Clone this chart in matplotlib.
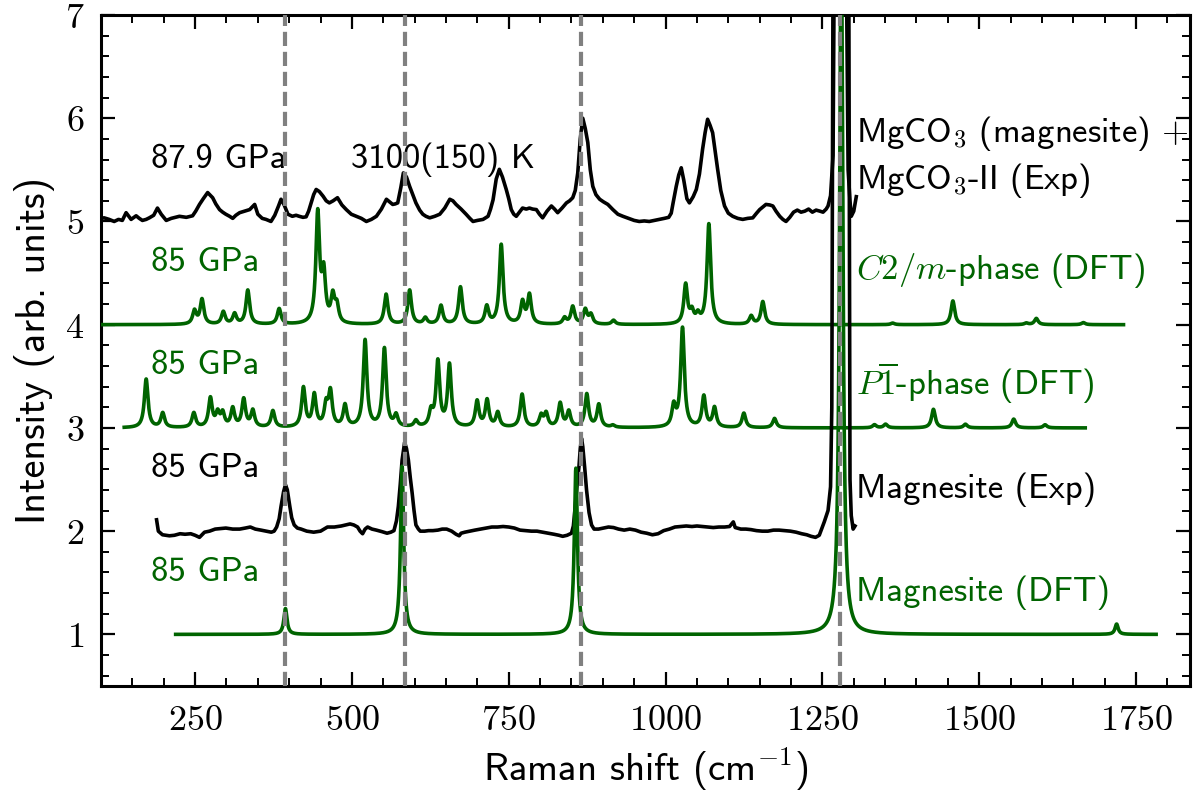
import numpy as np
import matplotlib
matplotlib.use("Agg")
import matplotlib.pyplot as plt
from matplotlib.ticker import MultipleLocator, FuncFormatter

# ---------------- data ----------------
# Experimental: MgCO3 (magnesite) + MgCO3-II at 87.9 GPa, 3100(150) K  (x cm^-1, y offset intensity)
exp_top = [
    (100, 5.03), (105, 5.035), (113, 5.02), (121, 5.00), (128, 5.02), (134, 5.01), (140, 5.085),
    (148, 5.02), (156, 5.055), (161, 5.03), (166, 5.01), (172, 5.02), (177, 5.035), (184, 5.06),
    (190, 5.13), (196, 5.07), (204, 5.01), (212, 5.03), (225, 5.05), (236, 5.04), (246, 5.055),
    (251, 5.10), (257, 5.165), (263, 5.22), (270, 5.28), (278, 5.23), (283, 5.17), (289, 5.115),
    (294, 5.09), (299, 5.07), (305, 5.05), (310, 5.03), (315, 5.06), (321, 5.085), (329, 5.10),
    (337, 5.115), (345, 5.165), (350, 5.07), (357, 5.03), (363, 5.02), (371, 5.00), (377, 5.06),
    (383, 5.15), (387, 5.215), (392, 5.16), (398, 5.07), (405, 5.05), (411, 5.06), (416, 5.05),
    (422, 5.04), (427, 5.045), (431, 5.10), (435, 5.18), (439, 5.26), (443, 5.31), (448, 5.29),
    (454, 5.245), (459, 5.20), (464, 5.18), (470, 5.20), (477, 5.23), (484, 5.16), (491, 5.115),
    (499, 5.07), (507, 5.05), (515, 5.03), (523, 5.00), (531, 5.02), (539, 5.05), (547, 5.12),
    (555, 5.215), (560, 5.19), (565, 5.165), (569, 5.17), (573, 5.18), (578, 5.33), (582, 5.47),
    (587, 5.43), (592, 5.34), (597, 5.26), (602, 5.18), (608, 5.11), (613, 5.07), (618, 5.05),
    (624, 5.035), (632, 5.05), (640, 5.07), (648, 5.13), (656, 5.215), (661, 5.20), (666, 5.165),
    (674, 5.12), (682, 5.07), (688, 5.03), (693, 5.00), (700, 5.01), (709, 5.02), (717, 5.05),
    (721, 5.12), (725, 5.21), (730, 5.41), (735, 5.505), (740, 5.43), (746, 5.31), (750, 5.22),
    (754, 5.115), (758, 5.07), (762, 5.05), (767, 5.09), (772, 5.13), (778, 5.12), (783, 5.13),
    (788, 5.12), (794, 5.115), (799, 5.07), (804, 5.035), (811, 5.10), (818, 5.15), (823, 5.12),
    (828, 5.085), (835, 5.13), (842, 5.18), (847, 5.20), (852, 5.23), (856, 5.30), (860, 5.47),
    (864, 5.80), (868, 6.00), (872, 5.90), (876, 5.765), (880, 5.50), (884, 5.34), (889, 5.26),
    (895, 5.215), (901, 5.19), (908, 5.165), (916, 5.115), (924, 5.07), (932, 5.05), (941, 5.03),
    (950, 5.01), (958, 5.00), (966, 5.005), (974, 5.00), (982, 5.01), (990, 5.02), (998, 5.03),
    (1005, 5.04), (1009, 5.08), (1012, 5.18), (1017, 5.34), (1021, 5.45), (1025, 5.52),
    (1029, 5.40), (1034, 5.22), (1038, 5.18), (1044, 5.24), (1049, 5.31), (1054, 5.46),
    (1059, 5.70), (1063, 5.86), (1067, 5.99), (1071, 5.93), (1075, 5.86), (1079, 5.68),
    (1083, 5.505), (1088, 5.30), (1094, 5.15), (1100, 5.08), (1107, 5.05), (1115, 5.03),
    (1123, 5.02), (1131, 5.03), (1139, 5.035), (1145, 5.08), (1150, 5.115), (1155, 5.14),
    (1160, 5.165), (1166, 5.16), (1171, 5.15), (1176, 5.10), (1182, 5.05), (1187, 5.02),
    (1192, 5.00), (1198, 5.04), (1204, 5.09), (1210, 5.11), (1216, 5.09), (1222, 5.10),
    (1228, 5.12), (1234, 5.09), (1240, 5.11), (1246, 5.10), (1251, 5.09), (1256, 5.12),
    (1259, 5.15), (1263, 5.25), (1267, 5.64), (1269, 7.6), (1288, 7.6), (1291, 5.50),
    (1294, 5.20), (1296, 5.05), (1300, 5.10), (1304, 5.24),
]

# Experimental magnesite at 85 GPa (offset 2)
exp_mag = [
    (188.6, 2.11), (191.4, 2.00), (198, 1.965), (204, 1.96), (209, 1.955), (217, 1.96),
    (226, 1.975), (234, 1.97), (243, 1.975), (250, 1.96), (257, 1.94), (265, 1.99), (273, 2.00),
    (282, 2.02), (290, 2.025), (299, 2.03), (310, 2.02), (321, 2.02), (330, 2.03), (338, 2.04),
    (346, 2.02), (355, 2.01), (363, 2.00), (371.5, 1.99), (376, 2.00), (380, 2.04), (384, 2.12),
    (387, 2.24), (391, 2.38), (394, 2.45), (397, 2.40), (401, 2.24), (404, 2.13), (408, 2.06),
    (413, 2.03), (419, 2.02), (428, 2.00), (439, 1.99), (450, 2.00), (461, 2.04), (472, 2.04),
    (483, 2.05), (490, 2.06), (497, 2.07), (503, 2.06), (509, 2.04), (513, 2.00), (517, 1.975),
    (521, 2.02), (525, 2.04), (532, 2.02), (539, 2.01), (548, 1.995), (556, 1.98), (562, 1.99),
    (567, 2.005), (571, 2.10), (574, 2.24), (577, 2.45), (580, 2.69), (584, 2.86), (587, 2.80),
    (590, 2.69), (593, 2.52), (596, 2.37), (599, 2.20), (602, 2.06), (606, 2.02), (609, 2.00),
    (616, 2.00), (622, 2.005), (629, 2.005), (637, 2.01), (644, 2.02), (651, 2.02), (659, 2.00),
    (666, 1.97), (671, 1.955), (674, 1.98), (680, 1.99), (688, 2.00), (696, 2.01), (705, 2.02),
    (714, 2.03), (723, 2.04), (732, 2.04), (741, 2.045), (750, 2.04), (759, 2.03), (768, 2.01),
    (777, 2.005), (786, 2.00), (795, 2.00), (804, 1.99), (813, 1.98), (822, 1.97), (830, 1.96),
    (836, 1.95), (843, 1.96), (850, 1.98), (853, 2.05), (856, 2.24), (859, 2.45), (862, 2.63),
    (864, 2.80), (866, 2.90), (868, 2.82), (871, 2.62), (874, 2.40), (878, 2.18), (882, 2.06),
    (886, 2.02), (893, 2.02), (901, 2.03), (909, 2.04), (917, 2.035), (925, 2.02), (934, 2.01),
    (943, 2.02), (952, 2.01), (961, 1.99), (970, 1.98), (979, 1.965), (988, 1.975), (997, 2.005),
    (1006, 2.02), (1015, 2.04), (1024, 2.045), (1033, 2.05), (1042, 2.045), (1050, 2.05),
    (1059, 2.045), (1068, 2.04), (1076, 2.035), (1085, 2.04), (1094, 2.04), (1102, 2.045),
    (1108, 2.09), (1111, 2.035), (1114, 2.03), (1120, 2.02), (1128, 2.02), (1136, 2.015),
    (1145, 2.005), (1154, 2.00), (1163, 2.00), (1172, 2.01), (1181, 2.01), (1190, 2.005),
    (1199, 2.00), (1208, 1.99), (1217, 1.975), (1225, 1.965), (1232, 1.95), (1239, 1.94),
    (1245, 1.96), (1253, 2.09), (1259, 2.20), (1263, 2.43), (1265, 3.2), (1267, 7.6),
    (1292, 7.6), (1294, 2.50), (1296, 2.15), (1299, 2.02), (1302, 2.05),
]

# DFT Raman modes (position in cm^-1, peak height), Lorentzian broadening
c2m_pos = [249, 261, 295, 313, 334, 384, 445.5, 455, 469.5, 476, 554.5, 592, 617, 642, 673, 715,
           738, 772, 783, 839, 852, 872, 881, 917, 1032, 1042, 1051.5, 1069, 1136.5, 1155, 1362,
           1458, 1575, 1591, 1666]
c2m_amp = [0.13, 0.24, 0.12, 0.10, 0.33, 0.15, 1.06, 0.46, 0.25, 0.16, 0.29, 0.33, 0.06, 0.18,
           0.36, 0.17, 0.77, 0.21, 0.28, 0.06, 0.17, 0.14, 0.09, 0.04, 0.38, 0.11, 0.08, 0.97, 0.08,
           0.22, 0.015, 0.23, 0.015, 0.06, 0.02]
c2m_range = (100, 1730)

p1_pos = [172, 198.4, 248, 274.4, 286, 294, 310, 327.5, 342, 374, 422.7, 440, 458.8, 465.7, 489,
          521, 551.8, 570.4, 602, 626, 637, 655.5, 699.6, 715.5, 732.5, 771.3, 801.6, 809.6, 832,
          845.7, 874.4, 893.6, 916, 1013, 1027, 1061, 1078, 1124.8, 1173.7, 1333, 1350.7, 1427,
          1478, 1555, 1605]
p1_amp = [0.47, 0.14, 0.14, 0.28, 0.13, 0.13, 0.18, 0.27, 0.16, 0.16, 0.38, 0.31, 0.20, 0.33,
          0.21, 0.84, 0.76, 0.11, 0.06, 0.14, 0.63, 0.60, 0.25, 0.26, 0.14, 0.32, 0.11, 0.13, 0.23,
          0.15, 0.32, 0.22, 0.02, 0.20, 0.96, 0.30, 0.19, 0.14, 0.09, 0.03, 0.035, 0.18, 0.035,
          0.085, 0.03]
p1_range = (137, 1669)

mag_pos = [394, 580, 857, 1280, 1719]
mag_amp = [0.25, 1.63, 1.61, 7.0, 0.10]
mag_range = (219, 1782)

dft_gamma = 3.5
offsets = {"c2m": 4.0, "p1": 3.0, "mag_dft": 1.0}

# guide lines (magnesite modes)
vlines = [394, 585, 865, 1278]

# labels: (text, colour, y-baseline)
left_labels = [("85 GPa", "g", 4.52), ("85 GPa", "g", 3.52), ("85 GPa", "k", 2.52),
               ("85 GPa", "g", 1.52)]
right_labels = [(r"MgCO$_3$ (magnesite) $+$", "k", 5.77), (r"MgCO$_3$-II (Exp)", "k", 5.31),
                (r"$C2/m$-phase (DFT)", "g", 4.44), (r"$P\overline{1}$-phase (DFT)", "g", 3.32),
                ("Magnesite (Exp)", "k", 2.32), ("Magnesite (DFT)", "g", 1.32)]

GREEN = "#006400"
BLACK = "#000000"


def broaden(lo, hi, pos, amp, base, gamma):
    x = np.linspace(lo, hi, 8000)
    y = np.full_like(x, base)
    for p, a in zip(pos, amp):
        y += a * gamma**2 / ((x - p) ** 2 + gamma**2)
    return x, y


# ---------------- style ----------------
plt.rcParams.update({
    "font.family": ["cmss10", "DejaVu Sans"],
    "mathtext.fontset": "cm",
    "axes.unicode_minus": False,
    "axes.linewidth": 2.2,
    "xtick.direction": "in", "ytick.direction": "in",
    "xtick.top": True, "ytick.right": True,
    "xtick.major.size": 10, "ytick.major.size": 10,
    "xtick.minor.size": 5.5, "ytick.minor.size": 5.5,
    "xtick.major.width": 1.6, "ytick.major.width": 1.6,
    "xtick.minor.width": 1.4, "ytick.minor.width": 1.4,
    "xtick.minor.visible": True, "ytick.minor.visible": True,
    "xtick.major.pad": 13, "ytick.major.pad": 12,
})

fig = plt.figure(figsize=(11.94, 7.97), dpi=100)
ax = fig.add_axes([101 / 1194, 1 - 686 / 797, (1190 - 101) / 1194, (686 - 15) / 797])

lw = 2.6
tx, ty = np.array(exp_top).T
ax.plot(tx, ty, color=BLACK, lw=lw, zorder=3)
xx, yy = broaden(*c2m_range, c2m_pos, c2m_amp, offsets["c2m"], dft_gamma)
ax.plot(xx, yy, color=GREEN, lw=lw, zorder=3)
xx, yy = broaden(*p1_range, p1_pos, p1_amp, offsets["p1"], dft_gamma)
ax.plot(xx, yy, color=GREEN, lw=lw, zorder=3)
mx, my = np.array(exp_mag).T
ax.plot(mx, my, color=BLACK, lw=lw, zorder=3)
xx, yy = broaden(*mag_range, mag_pos, mag_amp, offsets["mag_dft"], 3.0)
ax.plot(xx, yy, color=GREEN, lw=lw, zorder=3)

for v in vlines:
    ax.axvline(v, color="#808080", lw=3.0, dashes=(3.4, 1.4), zorder=5)

fs_txt = 25
ax.text(180, 5.515, "87.9 GPa", color=BLACK, fontsize=fs_txt, va="baseline", ha="left")
ax.text(499, 5.515, "3100(150) K", color=BLACK, fontsize=fs_txt, va="baseline", ha="left")
for txt, c, y in left_labels:
    ax.text(180, y, txt, color=GREEN if c == "g" else BLACK, fontsize=fs_txt,
            va="baseline", ha="left")
for txt, c, y in right_labels:
    ax.text(1303, y, txt, color=GREEN if c == "g" else BLACK, fontsize=fs_txt,
            va="baseline", ha="left")

ax.set_xlim(100, 1836)
ax.set_ylim(0.5, 7.0)
ax.xaxis.set_major_locator(MultipleLocator(250))
ax.xaxis.set_minor_locator(MultipleLocator(50))
ax.yaxis.set_major_locator(MultipleLocator(1))
ax.yaxis.set_minor_locator(MultipleLocator(0.2))
fmt = FuncFormatter(lambda v, p: f"${int(round(v))}$")
ax.xaxis.set_major_formatter(fmt)
ax.yaxis.set_major_formatter(fmt)
ax.tick_params(labelsize=26)

ax.set_xlabel(r"Raman shift (cm$^{-1}$)", fontsize=28)
ax.set_ylabel("Intensity (arb. units)", fontsize=29)
ax.xaxis.set_label_coords(0.5, -0.088)
ax.yaxis.set_label_coords(-0.042, 0.5)

fig.savefig("out.png", dpi=100)
